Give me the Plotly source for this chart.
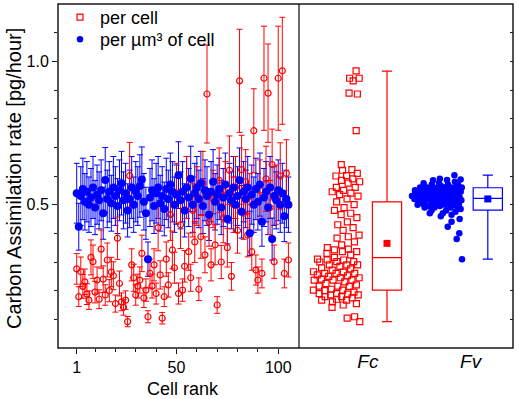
import numpy as np
import plotly.graph_objects as go

# ---------------- data ----------------
rank = list(range(1, 106))

per_cell = [
    0.276, 0.179, 0.266, 0.215, 0.231, 0.188, 0.167, 0.316, 0.301, 0.195,
    0.237, 0.170, 0.345, 0.240, 0.185, 0.307, 0.200, 0.265, 0.252, 0.155,
    0.383, 0.225, 0.161, 0.142, 0.167, 0.092, 0.601, 0.290, 0.245, 0.185,
    0.216, 0.237, 0.330, 0.175, 0.202, 0.109, 0.260, 0.216, 0.290, 0.190,
    0.420, 0.255, 0.104, 0.179, 0.310, 0.220, 0.465, 0.342, 0.280, 0.540,
    0.190, 0.430, 0.202, 0.285, 0.560, 0.336, 0.245, 0.480, 0.370, 0.530,
    0.205, 0.388, 0.575, 0.325, 0.886, 0.440, 0.290, 0.520, 0.360, 0.150,
    0.585, 0.300, 0.455, 0.545, 0.350, 0.620, 0.250, 0.500, 0.560, 0.410,
    0.932, 0.622, 0.470, 0.580, 0.394, 0.510, 0.336, 0.758, 0.272, 0.237,
    0.550, 0.260, 0.941, 0.590, 0.889, 0.490, 0.640, 0.301, 0.535, 0.941,
    0.600, 0.967, 0.260, 0.609, 0.307,
]

per_volume = [
    0.540, 0.423, 0.530, 0.555, 0.510, 0.545, 0.500, 0.525, 0.560, 0.490,
    0.535, 0.515, 0.550, 0.470, 0.586, 0.520, 0.545, 0.505, 0.560, 0.530,
    0.495, 0.550, 0.575, 0.515, 0.540, 0.480, 0.520, 0.560, 0.500, 0.545,
    0.530, 0.565, 0.588, 0.510, 0.470, 0.310, 0.525, 0.550, 0.495, 0.540,
    0.560, 0.505, 0.530, 0.485, 0.555, 0.520, 0.570, 0.545, 0.500, 0.535,
    0.603, 0.515, 0.545, 0.480, 0.560, 0.525, 0.590, 0.500, 0.540, 0.560,
    0.520, 0.575, 0.495, 0.550, 0.530, 0.465, 0.545, 0.580, 0.510, 0.535,
    0.555, 0.490, 0.525, 0.570, 0.450, 0.540, 0.515, 0.560, 0.500, 0.530,
    0.585, 0.475, 0.545, 0.520, 0.560, 0.400, 0.535, 0.500, 0.555, 0.510,
    0.570, 0.440, 0.525, 0.545, 0.490, 0.560, 0.380, 0.530, 0.515, 0.550,
    0.500, 0.540, 0.460, 0.520, 0.500,
]

REL_ERR_PCT = 19.3   # error bars are ~19 % of each value

# box statistics (min, q1, median, q3, max, mean)
fc_stats = [0.092, 0.202, 0.315, 0.510, 0.966, 0.365]
fv_stats = [0.310, 0.481, 0.522, 0.559, 0.603, 0.520]

x_ticks = [1, 50, 100]
x_minor = [10, 20, 30, 40, 60, 70, 80, 90]
y_ticks = [0.5, 1.0]
y_ticktext = ["0.5", "1.0"]
y_minor = [0.1, 0.2, 0.3, 0.4, 0.6, 0.7, 0.8, 0.9, 1.1]
y_all = [0.1, 0.2, 0.3, 0.4, 0.5, 0.6, 0.7, 0.8, 0.9, 1.0, 1.1]
groups = ["<i>Fc</i>", "<i>Fv</i>"]
x_title = "Cell rank"
y_title = "Carbon Assimilation rate [pg/hour]"
series_names = ["per cell", "per µm³ of cell"]

# ---------------- layout helpers ----------------
RED = "#ff0000"
BLUE = "#0000ff"
AX = "#1a1a1a"
FONT = "Arial, Liberation Sans, sans-serif"


def right_aligned_swarm(values, right, maxw, bw, power):
    """Deterministic half-swarm: spread proportional to local density."""
    v = np.asarray(values, dtype=float)
    dens = np.array([np.exp(-0.5 * ((v - vi) / bw) ** 2).sum() for vi in v])
    dens = (dens / dens.max()) ** power
    order = np.argsort(v, kind="stable")
    u = np.empty(len(v))
    for k, idx in enumerate(order):
        u[idx] = (k * 0.6180339887) % 1.0
    return right - u * maxw * dens


fc_x = right_aligned_swarm(per_cell, 0.73, 0.49, 0.04, 0.6)
fv_x = right_aligned_swarm(per_volume, 1.744, 0.50, 0.04, 0.6)

fig = go.Figure()

# left panel: blue error bars (under), red series, blue markers (top)
fig.add_trace(go.Scatter(
    x=rank, y=per_volume, mode="markers",
    marker=dict(size=1, color="rgba(0,0,255,0)"),
    error_y=dict(type="percent", value=REL_ERR_PCT, color=BLUE, thickness=1, width=3),
    showlegend=False, hoverinfo="skip"))
fig.add_trace(go.Scatter(
    x=rank, y=per_cell, mode="markers",
    marker=dict(symbol="circle-open", size=6, color=RED, line=dict(width=1.2)),
    error_y=dict(type="percent", value=REL_ERR_PCT, color=RED, thickness=1, width=3),
    showlegend=False))
fig.add_trace(go.Scatter(
    x=rank, y=per_volume, mode="markers",
    marker=dict(symbol="circle", size=8, color=BLUE),
    showlegend=False))

# right panel scatters (also legend entries)
fig.add_trace(go.Scatter(
    x=fc_x, y=per_cell, mode="markers", name=series_names[0],
    marker=dict(symbol="square-open", size=6, color=RED, line=dict(width=1.2)),
    xaxis="x2", yaxis="y", legend="legend"))
fig.add_trace(go.Scatter(
    x=fv_x, y=per_volume, mode="markers", name=series_names[1],
    marker=dict(symbol="circle", size=6.5, color=BLUE),
    xaxis="x2", yaxis="y", legend="legend2"))

# boxes
for pos, st, col in [(1, fc_stats, RED), (2, fv_stats, BLUE)]:
    fig.add_trace(go.Box(
        x=[pos], lowerfence=[st[0]], q1=[st[1]], median=[st[2]], q3=[st[3]],
        upperfence=[st[4]], width=0.29, whiskerwidth=0.35,
        line=dict(color=col, width=1.2), fillcolor="rgba(255,255,255,0)",
        boxpoints=False, showlegend=False, hoverinfo="skip",
        xaxis="x2", yaxis="y"))
    fig.add_trace(go.Scatter(
        x=[pos], y=[st[5]], mode="markers",
        marker=dict(symbol="square", size=7, color=col),
        showlegend=False, xaxis="x2", yaxis="y"))

# invisible trace to carry the right-hand tick axis
fig.add_trace(go.Scatter(x=[1.5], y=[0.5], mode="markers",
                         marker=dict(size=1, color="rgba(0,0,0,0)"),
                         showlegend=False, hoverinfo="skip",
                         xaxis="x2", yaxis="y2"))

SPLIT = 241 / 455
leg_common = dict(xanchor="left", yanchor="top", bgcolor="rgba(0,0,0,0)",
                  font=dict(size=18), itemsizing="trace")
LEG_X = 2 / 455
LEG_Y = 1.0 + 5 / 344

fig.update_layout(
    width=517, height=399,
    margin=dict(l=58, r=4, t=4, b=51, autoexpand=False),
    paper_bgcolor="white", plot_bgcolor="white",
    font=dict(family=FONT, color="black", size=16),
    showlegend=True,
    legend=dict(x=LEG_X, y=LEG_Y, **leg_common),
    legend2=dict(x=LEG_X, y=LEG_Y - 22 / 344, **leg_common),
    xaxis=dict(domain=[0, SPLIT], range=[-8.2, 110.2], anchor="y",
               automargin=False,
               showgrid=False, zeroline=False, showline=False,
               tickmode="array", tickvals=x_ticks,
               ticks="outside", ticklen=5, tickwidth=1.2, tickcolor=AX,
               tickfont=dict(size=16),
               minor=dict(tickmode="array", tickvals=x_minor, ticks="outside",
                          ticklen=3, tickwidth=1.2, tickcolor=AX)),
    xaxis2=dict(domain=[SPLIT, 1], range=[0.127, 2.25], anchor="y",
                automargin=False,
                showgrid=False, zeroline=False, showline=False,
                tickmode="array", tickvals=[0.81, 1.83], ticktext=groups,
                ticks="", tickfont=dict(size=19)),
    yaxis=dict(range=[0, 1.2], anchor="x", showgrid=False, zeroline=False,
               automargin=False,
               showline=False, tickmode="array", tickvals=y_ticks,
               ticktext=y_ticktext, ticks="outside", ticklen=5, tickwidth=1.2,
               tickcolor=AX, tickfont=dict(size=16),
               minor=dict(tickmode="array", tickvals=y_minor, ticks="outside",
                          ticklen=3, tickwidth=1.2, tickcolor=AX)),
    yaxis2=dict(range=[0, 1.2], overlaying="y", side="right", anchor="x2",
                automargin=False,
                showgrid=False, zeroline=False, showline=False,
                tickmode="array", tickvals=y_all, showticklabels=False,
                ticks="inside", ticklen=3, tickwidth=1.2, tickcolor=AX),
    annotations=[
        dict(text=x_title, xref="paper", yref="paper",
             x=(182.5 - 58) / 455, y=(348 - 389) / 344,
             xanchor="center", yanchor="middle", showarrow=False,
             font=dict(size=18)),
        dict(text=y_title, xref="paper", yref="paper",
             x=(14 - 58) / 455, y=(348 - 179) / 344, textangle=-90,
             xanchor="center", yanchor="middle", showarrow=False,
             font=dict(size=20)),
    ],
    shapes=[
        dict(type="rect", xref="paper", yref="paper", x0=0, x1=1, y0=0, y1=1,
             line=dict(color=AX, width=1.5), layer="above"),
        dict(type="line", xref="paper", yref="paper", x0=SPLIT, x1=SPLIT,
             y0=0, y1=1, line=dict(color=AX, width=1.3), layer="above"),
    ],
)

# remove the browser's default 8px body margin so the figure sits at (0, 0)
fig.write_html(
    "out.html",
    config={"displayModeBar": False},
    post_script="document.body.style.margin='0';document.body.style.overflow='hidden';",
)
